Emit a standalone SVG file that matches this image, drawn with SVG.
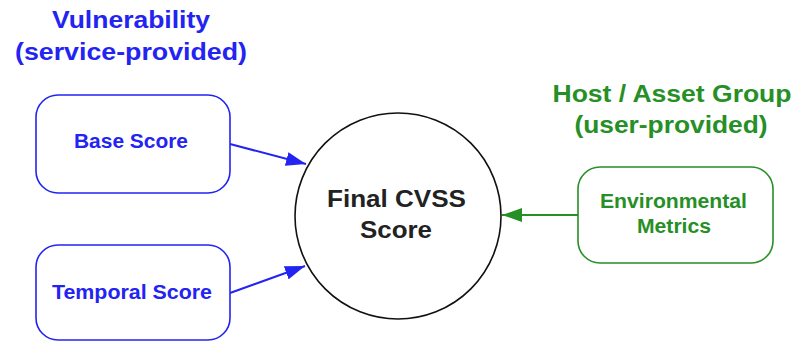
<svg xmlns="http://www.w3.org/2000/svg" width="806" height="341" viewBox="0 0 806 341">
<defs>
<style>
text{font-family:"Liberation Sans",Arial,sans-serif;font-weight:bold;text-anchor:middle}
.blue{fill:#2323f2}
.green{fill:#268f26}
.bbox{fill:#fff;stroke:#2323f2;stroke-width:1.6}
.gbox{fill:#fff;stroke:#268f26;stroke-width:1.6}
.bl{stroke:#2323f2;stroke-width:2;fill:none}
.gl{stroke:#268f26;stroke-width:2;fill:none}
.h{font-size:23px}
.n{font-size:20px}
</style>
<marker id="ab" viewBox="0 0 20 14" refX="20" refY="7" markerWidth="20" markerHeight="14" markerUnits="userSpaceOnUse" orient="auto"><path d="M0,0 L20,7 L0,14 Z" fill="#2323f2"/></marker>
<marker id="ag" viewBox="0 0 20 14" refX="20" refY="7" markerWidth="20" markerHeight="14" markerUnits="userSpaceOnUse" orient="auto"><path d="M0,0 L20,7 L0,14 Z" fill="#268f26"/></marker>
</defs>
<rect width="806" height="341" fill="#fff"/>
<g id="label-vulnerability">
<text class="h blue" x="131" y="28" textLength="158" lengthAdjust="spacingAndGlyphs">Vulnerability</text>
<text class="h blue" x="131" y="60" textLength="232" lengthAdjust="spacingAndGlyphs">(service-provided)</text>
</g>
<g id="label-host">
<text class="h green" x="672" y="102" textLength="239" lengthAdjust="spacingAndGlyphs">Host / Asset Group</text>
<text class="h green" x="671" y="133" textLength="193" lengthAdjust="spacingAndGlyphs">(user-provided)</text>
</g>
<g id="connectors">
<line class="bl" x1="230" y1="144" x2="306" y2="164" marker-end="url(#ab)"/>
<line class="bl" x1="230" y1="293" x2="305" y2="266" marker-end="url(#ab)"/>
<line class="gl" x1="578" y1="215" x2="502" y2="215" marker-end="url(#ag)"/>
</g>
<g id="node-base">
<rect class="bbox" x="36" y="95" width="194" height="98" rx="22"/>
<text class="n blue" x="131" y="148" textLength="114" lengthAdjust="spacingAndGlyphs">Base Score</text>
</g>
<g id="node-temporal">
<rect class="bbox" x="36" y="245" width="194" height="95" rx="22"/>
<text class="n blue" x="132" y="299" textLength="160" lengthAdjust="spacingAndGlyphs">Temporal Score</text>
</g>
<g id="node-final">
<circle cx="398" cy="216" r="103" fill="#fff" stroke="#111" stroke-width="1.6"/>
<text class="h" fill="#222" x="396.5" y="207" textLength="139" lengthAdjust="spacingAndGlyphs">Final CVSS</text>
<text class="h" fill="#222" x="396" y="238" textLength="72" lengthAdjust="spacingAndGlyphs">Score</text>
</g>
<g id="node-environmental">
<rect class="gbox" x="578" y="167" width="195" height="96" rx="22"/>
<text class="n green" x="673.5" y="208" textLength="147" lengthAdjust="spacingAndGlyphs">Environmental</text>
<text class="n green" x="674" y="233" textLength="74" lengthAdjust="spacingAndGlyphs">Metrics</text>
</g>
</svg>
